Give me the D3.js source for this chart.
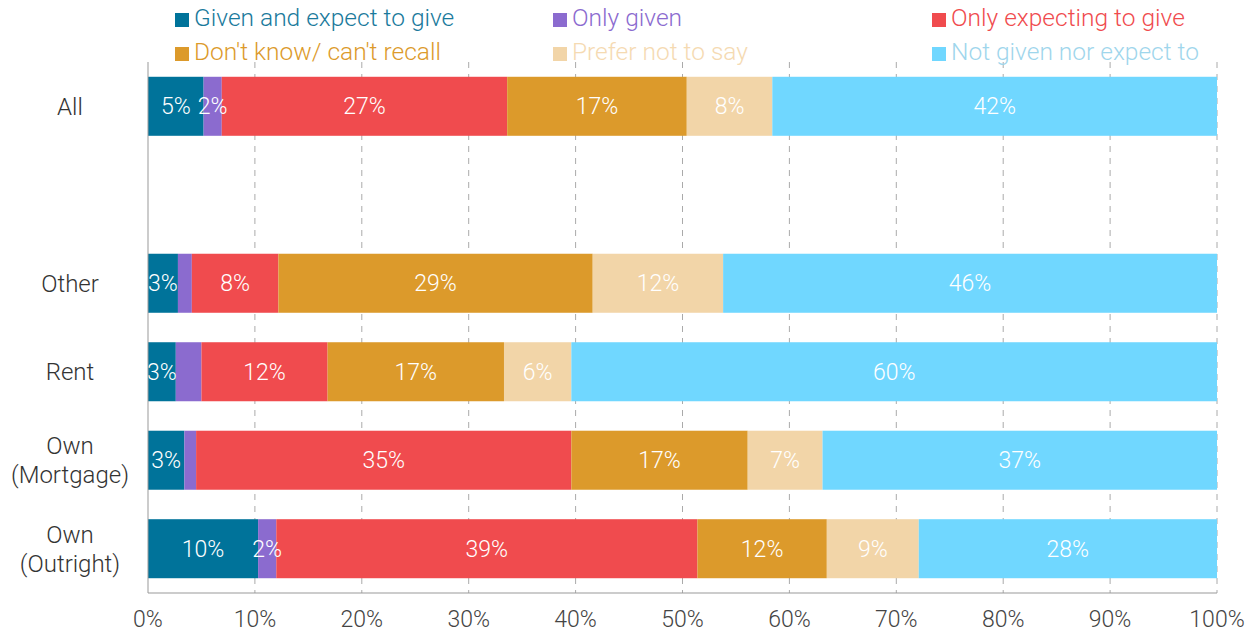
<html>
<head>
<script src="https://d3js.org/d3.v7.min.js"></script>
<style>
body { margin: 0; background: #fff; font-family: Roboto, 'Open Sans', sans-serif; }
svg { display: block; }
</style>
</head>
<body>
<svg width="1255" height="634"></svg>
<script>

var categories = ["All", "", "Other", "Rent", "Own\n(Mortgage)", "Own\n(Outright)"];
var seriesNames = ["Given and expect to give", "Only given", "Only expecting to give",
                   "Don't know/ can't recall", "Prefer not to say", "Not given nor expect to"];
var colors = ["#00739a", "#8b6bcf", "#f04b4e", "#dc9a2b", "#f2d5a8", "#70d7ff"];
var legendText = ["#1a7a9c", "#8b6bcf", "#f04b4e", "#dc9a2b", "#f5dab2", "#9fd6ec"];

// values per category, in series order
var givenAndExpect = [5.2, null, 2.8, 2.6, 3.4, 10.3];
var onlyGiven      = [1.7, null, 1.3, 2.4, 1.1, 1.7];
var onlyExpecting  = [26.7, null, 8.1, 11.8, 35.1, 39.4];
var dontKnow       = [16.8, null, 29.4, 16.5, 16.5, 12.1];
var preferNot      = [8.0, null, 12.2, 6.3, 7.0, 8.6];
var notGiven       = [41.6, null, 46.2, 60.4, 36.9, 27.9];
var labelShown     = [[1,1,1,1,1,1], null, [1,0,1,1,1,1], [1,0,1,1,1,1], [1,0,1,1,1,1], [1,1,1,1,1,1]];
var xTicks = [0, 10, 20, 30, 40, 50, 60, 70, 80, 90, 100];

var series = [givenAndExpect, onlyGiven, onlyExpecting, dontKnow, preferNot, notGiven];

var svg = d3.select("svg");
var margin = {left: 148, right: 38, top: 62, bottom: 41};
var W = 1255, H = 634;

var x = d3.scaleLinear().domain([0, 100]).range([margin.left, W - margin.right]);
var y = d3.scaleBand().domain(d3.range(categories.length))
  .range([margin.top, H - margin.bottom]).paddingInner(0.333).paddingOuter(0.167);

// grid
svg.append("g").selectAll("line").data(xTicks.slice(1)).enter().append("line")
  .attr("x1", d => x(d)).attr("x2", d => x(d))
  .attr("y1", margin.top).attr("y2", H - margin.bottom)
  .attr("stroke", "#aaa").attr("stroke-width", 1).attr("stroke-dasharray", "6,6");

// bars
svg.append("clipPath").attr("id", "plot").append("rect")
  .attr("x", margin.left).attr("y", 0).attr("width", x(100) - x(0)).attr("height", H);

var rows = [];
categories.forEach(function (c, i) {
  if (series[0][i] == null) return;
  var acc = 0;
  series.forEach(function (s, j) {
    rows.push({cat: i, ser: j, x0: acc, x1: acc + s[i], v: s[i], show: labelShown[i][j]});
    acc += s[i];
  });
});

svg.append("g").selectAll("rect").data(rows).enter().append("rect")
  .attr("x", d => x(d.x0)).attr("width", d => x(d.x1) - x(d.x0))
  .attr("y", d => y(d.cat)).attr("height", y.bandwidth())
  .attr("fill", d => colors[d.ser]);

svg.append("g").attr("clip-path", "url(#plot)").selectAll("text")
  .data(rows.filter(d => d.show)).enter().append("text")
  .attr("x", d => (x(d.x0) + x(d.x1)) / 2)
  .attr("y", d => y(d.cat) + y.bandwidth() / 2)
  .attr("dy", "0.35em").attr("text-anchor", "middle")
  .attr("fill", "#fff").attr("font-size", 23).attr("font-weight", 300)
  .text(d => Math.round(d.v) + "%");

// axes lines
svg.append("line").attr("x1", margin.left).attr("x2", margin.left)
  .attr("y1", margin.top).attr("y2", H - margin.bottom).attr("stroke", "#999");
svg.append("line").attr("x1", margin.left).attr("x2", x(100))
  .attr("y1", H - margin.bottom).attr("y2", H - margin.bottom).attr("stroke", "#999");

svg.append("g").selectAll("text").data(xTicks).enter().append("text")
  .attr("x", d => x(d)).attr("y", 627).attr("text-anchor", "middle")
  .attr("font-size", 23).attr("font-weight", 300).attr("fill", "#444")
  .text(d => d + "%");

// category labels
categories.forEach(function (c, i) {
  if (!c) return;
  var lines = c.split("\n");
  var cy = y(i) + y.bandwidth() / 2;
  var t = svg.append("text").attr("x", 70).attr("text-anchor", "middle")
    .attr("font-size", 24).attr("font-weight", 300).attr("fill", "#333");
  lines.forEach(function (l, k) {
    t.append("tspan").attr("x", 70)
      .attr("y", cy + (k - (lines.length - 1) / 2) * 29)
      .attr("dy", "0.35em").text(l);
  });
});

// legend
var legX = [175, 553, 932];
seriesNames.forEach(function (n, i) {
  var gx = legX[i % 3], gy = i < 3 ? 26 : 60;
  svg.append("rect").attr("x", gx).attr("y", gy - 13).attr("width", 14).attr("height", 14)
    .attr("fill", colors[i]);
  svg.append("text").attr("x", gx + 19).attr("y", gy).attr("font-size", 24.5)
    .attr("font-weight", 300).attr("fill", legendText[i]).text(n);
});

</script>
</body>
</html>
